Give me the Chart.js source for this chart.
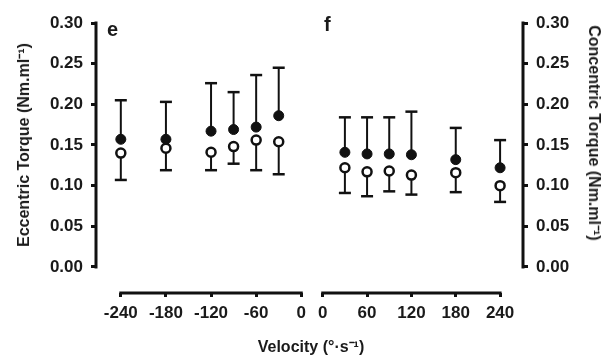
<!DOCTYPE html>
<html>
<head>
<meta charset="utf-8">
<script src="https://cdn.jsdelivr.net/npm/chart.js@4"></script>
<style>
  body { margin: 0; background: #fff; }
  #wrap { position: relative; width: 609px; height: 356px; overflow: hidden; font-family: "Liberation Sans", Arial, sans-serif; color: #1a1a1a; }
  canvas { position: absolute; top: 0; }
  #eccChart { left: 0; }
  #conChart { left: 312px; }
  .lbl { position: absolute; font-weight: bold; white-space: nowrap; line-height: 1; }
  .panel { font-size: 20px; }
  .ytitle { font-size: 16px; transform: translate(-50%, -50%) rotate(-90deg); }
  .ytitle.right { transform: translate(-50%, -50%) rotate(90deg); }
  .xtitle { font-size: 16px; transform: translate(-50%, -50%); }
</style>
</head>
<body>
<div id="wrap">
  <canvas id="eccChart" width="312" height="356"></canvas>
  <canvas id="conChart" width="297" height="356"></canvas>
  <div class="lbl panel" style="left:107px; top:19px;">e</div>
  <div class="lbl panel" style="left:324px; top:14px;">f</div>
  <div class="lbl ytitle" style="left:24px; top:145px;">Eccentric Torque (Nm.ml⁻¹)</div>
  <div class="lbl ytitle right" style="left:594px; top:133px;">Concentric Torque (Nm.ml⁻¹)</div>
  <div class="lbl xtitle" style="left:311px; top:347px;">Velocity (°·s⁻¹)</div>
</div>
<script>
// eccentric (negative velocities)
const eccVelocity = [-240, -180, -120, -90, -60, -30];
const eccFilled = [0.157, 0.157, 0.167, 0.169, 0.172, 0.186];
const eccFilledSD = [0.048, 0.046, 0.059, 0.046, 0.064, 0.059];
const eccOpen = [0.140, 0.146, 0.141, 0.148, 0.156, 0.154];
const eccOpenSD = [0.033, 0.027, 0.022, 0.021, 0.037, 0.040];
const eccTicks = [-240, -180, -120, -60, 0];

// concentric (positive velocities)
const conVelocity = [30, 60, 90, 120, 180, 240];
const conFilled = [0.141, 0.139, 0.139, 0.138, 0.132, 0.122];
const conFilledSD = [0.043, 0.045, 0.045, 0.053, 0.039, 0.034];
const conOpen = [0.122, 0.117, 0.118, 0.113, 0.116, 0.100];
const conOpenSD = [0.031, 0.030, 0.025, 0.024, 0.024, 0.020];
const conTicks = [0, 60, 120, 180, 240];

const torqueTicks = [0, 0.05, 0.10, 0.15, 0.20, 0.25, 0.30];

const INK = '#111';
const TXT = '#1a1a1a';
const tickFont = { family: 'Liberation Sans', size: 17, weight: 'bold' };

// one-sided SD bars: filled points go up, open points go down
const errorBars = {
    id: 'errorBars',
    beforeDatasetsDraw(chart) {
        const ctx = chart.ctx;
        const xs = chart.scales.x, ys = chart.scales.y;
        ctx.save();
        ctx.strokeStyle = INK;
        chart.data.datasets.forEach(ds => {
            ds.data.forEach((p, i) => {
                const x = xs.getPixelForValue(p.x);
                const y0 = ys.getPixelForValue(p.y);
                const y1 = ys.getPixelForValue(p.y + ds.errDir * ds.sd[i]);
                ctx.lineWidth = 2;
                ctx.beginPath();
                ctx.moveTo(x, y0);
                ctx.lineTo(x, y1);
                ctx.stroke();
                ctx.lineWidth = 2.5;
                ctx.beginPath();
                ctx.moveTo(x - 6, y1);
                ctx.lineTo(x + 6, y1);
                ctx.stroke();
            });
        });
        ctx.restore();
    }
};

// detached axis lines, only over the labelled range
const axisLines = {
    id: 'axisLines',
    afterDraw(chart, args, opts) {
        const ctx = chart.ctx;
        const xs = chart.scales.x, ys = chart.scales.y;
        const area = chart.chartArea;
        const yx = opts.side === 'right' ? area.right : area.left;
        ctx.save();
        ctx.strokeStyle = INK;
        ctx.lineWidth = 3;
        ctx.beginPath();
        ctx.moveTo(yx, ys.getPixelForValue(0) + 1.5);
        ctx.lineTo(yx, ys.getPixelForValue(0.30) - 1.5);
        ctx.stroke();
        ctx.beginPath();
        ctx.moveTo(xs.getPixelForValue(opts.xFrom) - 1.5, area.bottom);
        ctx.lineTo(xs.getPixelForValue(opts.xTo) + 1.5, area.bottom);
        ctx.stroke();
        ctx.restore();
    }
};

function points(xv, yv) {
    return xv.map((v, i) => ({ x: v, y: yv[i] }));
}

function make_chart(id, side, vel, filled, filledSD, open, openSD, xTicks, xMin, xMax) {
    const ctx = document.getElementById(id).getContext('2d');
    return new Chart(ctx, {
        type: 'scatter',
        data: {
            datasets: [
                {
                    data: points(vel, filled),
                    sd: filledSD,
                    errDir: 1,
                    pointRadius: 5,
                    pointBackgroundColor: INK,
                    pointBorderColor: INK,
                    pointBorderWidth: 1
                },
                {
                    data: points(vel, open),
                    sd: openSD,
                    errDir: -1,
                    pointRadius: 4.5,
                    pointBackgroundColor: '#fff',
                    pointBorderColor: INK,
                    pointBorderWidth: 2.5
                }
            ]
        },
        options: {
            responsive: false,
            animation: false,
            layout: {
                padding: side === 'left'
                    ? { top: 23, right: 10, left: 0, bottom: 0 }
                    : { top: 23, right: 0, left: 10, bottom: 0 }
            },
            plugins: {
                legend: { display: false },
                tooltip: { enabled: false },
                axisLines: { side: side, xFrom: xTicks[0], xTo: xTicks[xTicks.length - 1] }
            },
            scales: {
                x: {
                    type: 'linear',
                    min: xMin,
                    max: xMax,
                    afterBuildTicks: s => { s.ticks = xTicks.map(v => ({ value: v })); },
                    afterFit: s => { s.height = 63; },
                    border: { display: false },
                    grid: { drawOnChartArea: false, tickLength: 4, lineWidth: 3, color: INK },
                    ticks: { font: tickFont, color: TXT, padding: 6, maxRotation: 0, autoSkip: false }
                },
                y: {
                    position: side,
                    min: -0.032,
                    max: 0.30,
                    afterBuildTicks: s => { s.ticks = torqueTicks.map(v => ({ value: v })); },
                    afterFit: s => { s.width = side === 'left' ? 96 : 86; },
                    border: { display: false },
                    grid: { drawOnChartArea: false, tickLength: 5, lineWidth: 3, color: INK },
                    ticks: {
                        font: tickFont, color: TXT, padding: 8, autoSkip: false,
                        callback: v => v.toFixed(2)
                    }
                }
            }
        },
        plugins: [errorBars, axisLines]
    });
}

make_chart('eccChart', 'left', eccVelocity, eccFilled, eccFilledSD, eccOpen, eccOpenSD, eccTicks, -273, 0);
make_chart('conChart', 'right', conVelocity, conFilled, conFilledSD, conOpen, conOpenSD, conTicks, 0, 271);
</script>
</body>
</html>
